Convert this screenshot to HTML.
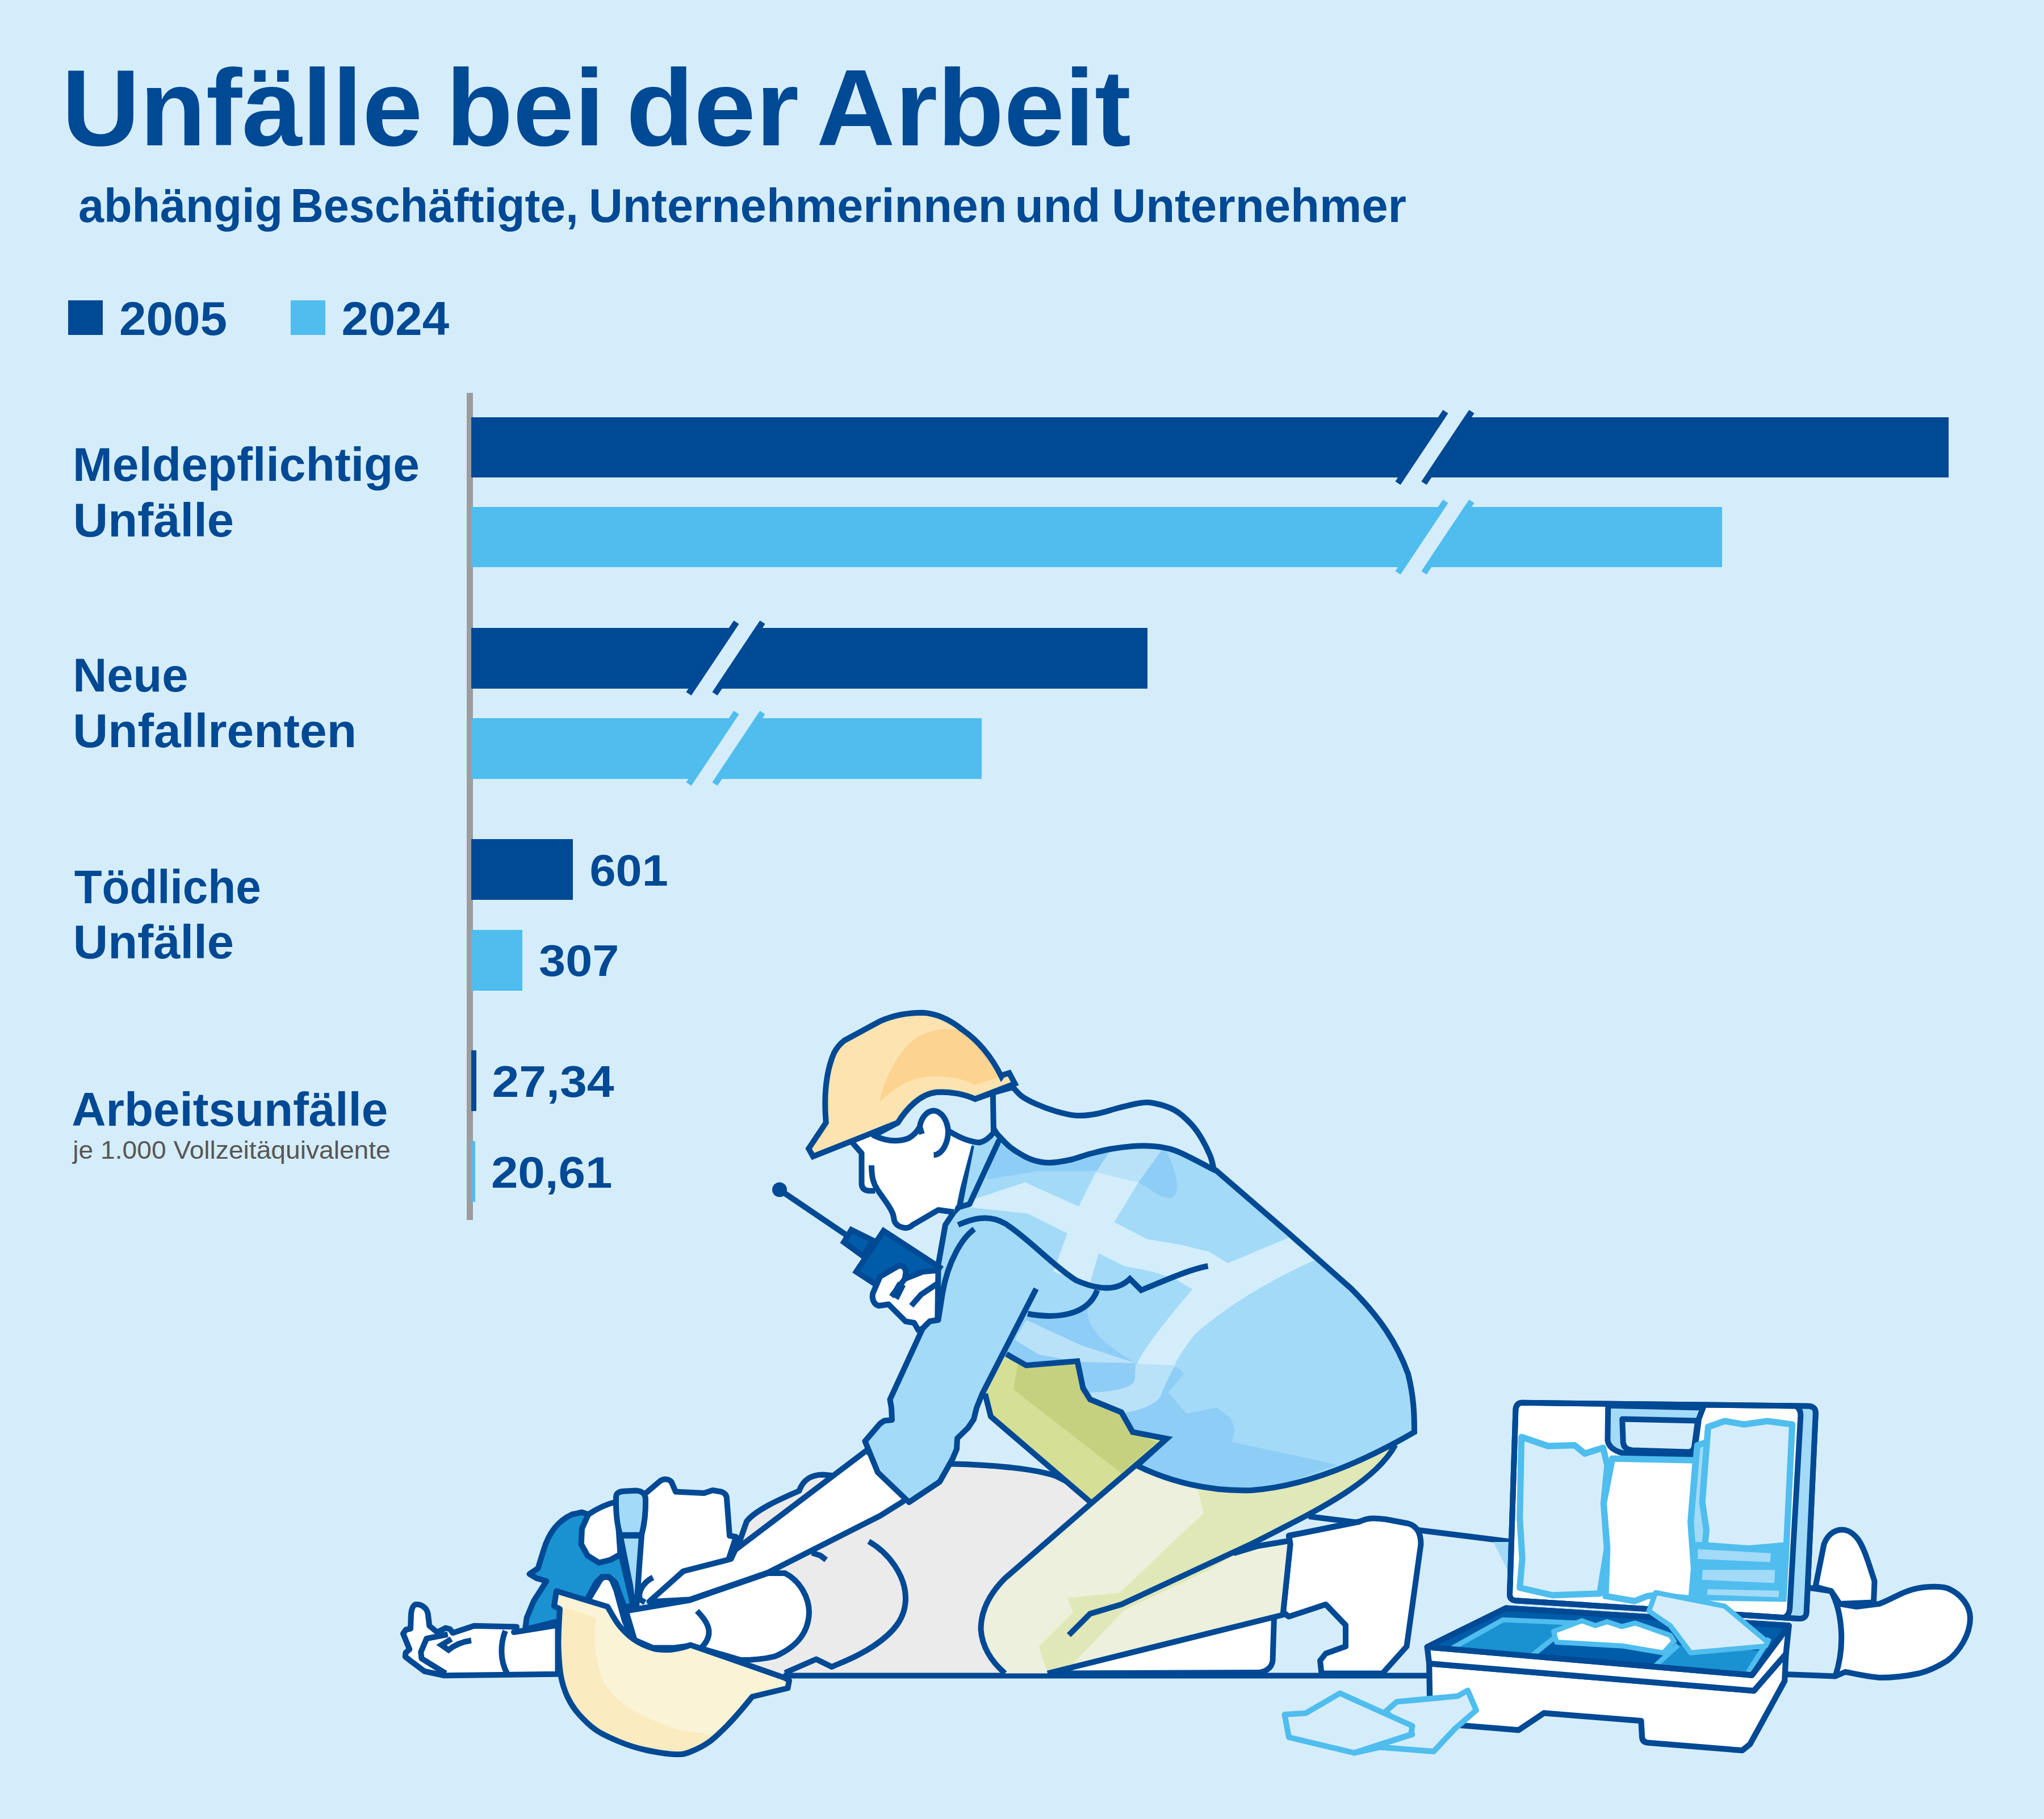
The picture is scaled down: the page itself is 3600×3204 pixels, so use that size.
<!DOCTYPE html>
<html lang="de"><head><meta charset="utf-8"><title>Unfälle bei der Arbeit</title>
<style>
html,body{margin:0;padding:0;background:#D5EDFB;}
svg{display:block}
text{font-family:"Liberation Sans",sans-serif;font-weight:bold;fill:#004994}
.o{stroke:#004994;stroke-width:9;stroke-linejoin:round;stroke-linecap:butt;fill:none}
</style></head><body>
<svg width="3600" height="3204" viewBox="0 0 3600 3204">
<rect width="3600" height="3204" fill="#D5EDFB"/>
<!-- legend -->
<rect x="120" y="529" width="61" height="61" fill="#004994"/>
<rect x="512" y="529" width="61" height="61" fill="#4FBDEE"/>
<!-- axis -->
<rect x="822" y="692" width="11" height="1457" fill="#9C9C9C"/>
<!-- bars -->
<rect x="830" y="735" width="2602" height="106" fill="#004994"/>
<rect x="830" y="893" width="2203" height="106" fill="#4FBDEE"/>
<rect x="830" y="1106" width="1191" height="107" fill="#004994"/>
<rect x="830" y="1265" width="899" height="107" fill="#4FBDEE"/>
<rect x="830" y="1478" width="179" height="107" fill="#004994"/>
<rect x="830" y="1638" width="90" height="107" fill="#4FBDEE"/>
<rect x="830" y="1850" width="9" height="107" fill="#004994"/>
<rect x="830" y="2010" width="7" height="107" fill="#4FBDEE"/>
<!-- break marks -->
<g><polygon points="2546,725 2592,725 2508,851 2462,851" fill="#D5EDFB"/>
<path d="M2546,725 L2462,851 M2592,725 L2508,851" stroke="#004994" stroke-width="11" fill="none"/></g>
<g transform="translate(0,158)"><polygon points="2546,725 2592,725 2508,851 2462,851" fill="#D5EDFB"/>
<path d="M2546,725 L2462,851 M2592,725 L2508,851" stroke="#4FBDEE" stroke-width="11" fill="none"/></g>
<g transform="translate(-1249,371)"><polygon points="2546,725 2592,725 2508,851 2462,851" fill="#D5EDFB"/>
<path d="M2546,725 L2462,851 M2592,725 L2508,851" stroke="#004994" stroke-width="11" fill="none"/></g>
<g transform="translate(-1249,530)"><polygon points="2546,725 2592,725 2508,851 2462,851" fill="#D5EDFB"/>
<path d="M2546,725 L2462,851 M2592,725 L2508,851" stroke="#4FBDEE" stroke-width="11" fill="none"/></g>
<!-- texts -->
<text x="108.7" y="255.5" font-size="192" textLength="635.5" lengthAdjust="spacingAndGlyphs">Unfälle</text>
<text x="785.3" y="255.5" font-size="192" textLength="279.6" lengthAdjust="spacingAndGlyphs">bei</text>
<text x="1102.7" y="255.5" font-size="192" textLength="304.4" lengthAdjust="spacingAndGlyphs">der</text>
<text x="1437.9" y="255.5" font-size="192" textLength="554.1" lengthAdjust="spacingAndGlyphs">Arbeit</text>
<text x="138.0" y="390.5" font-size="83" textLength="360.1" lengthAdjust="spacingAndGlyphs">abhängig</text>
<text x="511.5" y="390.5" font-size="83" textLength="507.2" lengthAdjust="spacingAndGlyphs">Beschäftigte,</text>
<text x="1036.9" y="390.5" font-size="83" textLength="736.6" lengthAdjust="spacingAndGlyphs">Unternehmerinnen</text>
<text x="1787.6" y="390.5" font-size="83" textLength="150.8" lengthAdjust="spacingAndGlyphs">und</text>
<text x="1957.9" y="390.5" font-size="83" textLength="519.1" lengthAdjust="spacingAndGlyphs">Unternehmer</text>
<text x="209.9" y="590" font-size="84" textLength="190.1" lengthAdjust="spacingAndGlyphs">2005</text>
<text x="601.5" y="590" font-size="84" textLength="189.6" lengthAdjust="spacingAndGlyphs">2024</text>
<text x="127.9" y="846.5" font-size="83" textLength="611.1" lengthAdjust="spacingAndGlyphs">Meldepflichtige</text>
<text x="128.8" y="944.5" font-size="83" textLength="283.2" lengthAdjust="spacingAndGlyphs">Unfälle</text>
<text x="128.2" y="1218" font-size="83" textLength="203.3" lengthAdjust="spacingAndGlyphs">Neue</text>
<text x="128.3" y="1316" font-size="83" textLength="499.7" lengthAdjust="spacingAndGlyphs">Unfallrenten</text>
<text x="130.7" y="1590.5" font-size="83" textLength="329.0" lengthAdjust="spacingAndGlyphs">Tödliche</text>
<text x="128.8" y="1688" font-size="83" textLength="283.2" lengthAdjust="spacingAndGlyphs">Unfälle</text>
<text x="126.2" y="1982.5" font-size="83" textLength="557.0" lengthAdjust="spacingAndGlyphs">Arbeitsunfälle</text>
<text x="128.3" y="2041" font-size="45" textLength="559.5" lengthAdjust="spacingAndGlyphs" style="font-weight:normal;fill:#575756">je 1.000 Vollzeitäquivalente</text>
<text x="1038.5" y="1559.5" font-size="78" textLength="138.2" lengthAdjust="spacingAndGlyphs">601</text>
<text x="949.1" y="1718.5" font-size="78" textLength="141.2" lengthAdjust="spacingAndGlyphs">307</text>
<text x="866.5" y="1932" font-size="78" textLength="215.1" lengthAdjust="spacingAndGlyphs">27,34</text>
<text x="864.9" y="2092" font-size="78" textLength="213.6" lengthAdjust="spacingAndGlyphs">20,61</text>
<!-- ===== lying person (tile A: origin 650,2400, scale 1/2) ===== -->
<g transform="translate(650,2400) scale(0.5)" stroke-width="20" stroke="#004994" fill="none" stroke-linejoin="round">
<!-- gray body -->
<path d="M1295,660 L1330,560 C1360,520 1450,480 1515,452 C1530,410 1560,395 1600,395 L1640,399 L2050,355 L2250,365 L2420,400 L2470,430 L2540,490 L2240,760 C2170,830 2150,900 2160,960 C2175,1030 2200,1060 2240,1100 L1400,1100 L1100,900 Z" fill="#EBEBEB" stroke="none"/>
<path d="M1295,660 L1330,560 C1360,520 1450,480 1515,452 C1530,410 1560,395 1600,395 L1640,399"/>
<path d="M2050,357 C2200,360 2350,375 2420,400 L2470,425"/>
<path d="M1760,630 C1830,670 1890,750 1890,830 C1890,900 1850,950 1775,1000 C1720,1035 1680,1050 1630,1072 L1575,1045 L1465,1093"/>
<path d="M1560,670 L1590,680 L1610,695"/>
<!-- ground line -->
<path d="M1460,1103 L3760,1103"/>
</g>
<!-- boots + lying legs (tile B: origin 1600,2400, scale 1/2) -->
<g transform="translate(1600,2400) scale(0.5)" stroke-width="20" stroke="#004994" fill="none" stroke-linejoin="round">
<path d="M1410,542 L2130,632"/>
<path d="M2060,632 L2120,632 L2120,750 Z" fill="#A3DAF7" stroke="none"/>
<path d="M490,1095 L1288,896 L1283,1050 C1280,1080 1250,1092 1230,1092 Z" fill="#fff"/>
<path d="M1340,610 L1590,560 C1620,545 1650,548 1680,552 L1760,567 C1790,575 1805,600 1805,640 L1755,1000 L1670,1095 L1455,1095 L1450,1050 L1470,1025 L1540,1000 L1540,925 L1470,852 L1340,895 L1320,880 L1345,640 Z" fill="#fff"/>
</g>
<!-- lying person's feet (tile C: origin 2500,2400, scale 1/2) -->
<g transform="translate(2500,2400) scale(0.5)" stroke-width="20" stroke="#004994" fill="none" stroke-linejoin="round">
<path d="M1395,790 L1425,640 C1440,600 1470,585 1500,590 C1540,600 1560,640 1580,700 L1603,770 L1600,845 L1480,850 L1450,805 Z" fill="#fff"/>
<path d="M1450,805 L1480,850 L1540,860 L1620,850 C1660,835 1690,815 1720,805 C1760,790 1820,785 1860,795 C1910,815 1940,860 1940,900 C1940,960 1900,1020 1860,1050 C1820,1075 1780,1090 1760,1095 C1700,1108 1660,1110 1620,1110 C1570,1105 1530,1095 1500,1090 L1465,1105 C1500,1000 1490,880 1450,805 Z" fill="#fff"/>
<path d="M1370,793 L1450,805 M1465,1105 L1285,1098"/>
</g>
<!-- kit lid (tile N: origin 2640,2440, scale 1/3.4067) -->
<g transform="translate(2640,2440) scale(0.29354)" stroke-width="34" stroke="#004994" fill="none" stroke-linejoin="round">
<path d="M140,105 L1860,125 Q1902,128 1900,172 L1845,1365 Q1842,1402 1800,1400 L100,1292 Q62,1288 65,1250 L100,150 Q102,105 140,105 Z" fill="#fff"/>
<path d="M1790,125 L1860,125 Q1902,128 1900,172 L1845,1365 Q1842,1402 1800,1400 L1725,1393 Q1745,1378 1747,1340 L1810,185 Q1812,142 1790,125 Z" fill="#A3DAF7" stroke="none"/>
<path d="M1780,122 Q1812,142 1810,185 L1745,1340 Q1742,1378 1715,1392"/>
<path d="M140,105 L1860,125 Q1902,128 1900,172 L1845,1365 Q1842,1402 1800,1400 L100,1292 Q62,1288 65,1250 L100,150 Q102,105 140,105 Z"/>
<!-- handle recess -->
<path d="M655,122 L652,330 Q660,385 745,408 L1165,418 L1180,350 L1200,200 L1225,135 Z" fill="#A3DAF7"/>
<path d="M740,203 L1193,213 L1172,370 Q1165,400 1135,400 L800,390 Q748,385 745,340 Z" fill="#D5EDFB"/>
<!-- pouches -->
<g stroke="#4FBDEE" stroke-width="38">
<path d="M1150,960 L1745,950 L1725,1300 L1140,1290 Z" fill="#4FBDEE" stroke="none"/>
<path d="M1190,360 L1250,340 L1250,960 L1160,960 L1150,820 Z" fill="#A3DAF7"/>
<path d="M680,440 L1180,450 L1150,820 L1170,1100 L1155,1280 L940,1260 L890,1265 L815,1295 L640,1265 L650,980 L628,710 L665,520 Z" fill="#fff"/>
<path d="M135,310 L295,365 L455,360 L515,410 L625,375 L650,480 L628,710 L648,980 L605,1250 L320,1260 L125,1215 L140,1040 L125,800 Z" fill="#D5EDFB"/>
<path d="M1255,250 L1355,215 L1470,235 L1610,215 L1760,235 L1725,960 L1500,980 L1235,960 L1245,870 L1220,700 Z" fill="#D5EDFB"/>
<path d="M1185,975 L1640,1000 L1635,1070 L1185,1050 Z" fill="#A3DAF7" stroke-width="16"/>
<path d="M1215,1100 L1665,1100 L1660,1195 L1210,1175 Z" fill="#A3DAF7" stroke-width="16"/>
<path d="M1245,1215 L1690,1225 L1685,1280 L1240,1265 Z" fill="#A3DAF7" stroke-width="16"/>
</g>
</g>
<!-- kit base (tile P: origin 2500,2800, scale 1/2.92) -->
<g transform="translate(2500,2800) scale(0.34247)" stroke-width="30" stroke="#004994" fill="none" stroke-linejoin="round">
<path d="M50,380 L55,685 L510,722 L640,635 L1140,675 L1145,760 Q1148,785 1175,787 L1660,827 L1700,795 L1878,470 L1885,330 L1720,520 Z" fill="#fff"/>
<path d="M40,295 L445,95 L1900,185 L1885,330 L1720,520 L50,380 Z" fill="#fff"/>
<path d="M40,295 L445,95 L1900,185 L1710,440 Z" fill="#005CA9"/>
<g stroke="none">
<path d="M150,302 L420,160 L760,180 L590,340 Z" fill="#1A92D1"/>
<path d="M1215,392 L1330,285 L1760,315 L1690,432 Z" fill="#1A92D1"/>
</g>
<g stroke="#4FBDEE" stroke-width="26">
<path d="M170,300 L430,155 L820,172"/>
<path d="M580,338 L690,250"/>
<path d="M1215,390 L1330,285"/>
<path d="M1690,425 L1800,250"/>
<path d="M690,215 L835,160 L905,185 L965,165 L1040,190 L1110,172 L1290,235 L1310,265 L1255,325 L1050,290 L705,270 Z" fill="#fff"/>
<path d="M1215,15 L1570,85 L1790,270 L1780,290 L1395,325 L1290,185 L1180,110 Z" fill="#D5EDFB"/>
</g>
<path d="M40,295 L1710,440 L1900,185"/>
</g>
<!-- loose packets (tile B: origin 1600,2400, scale 1/2) -->
<g transform="translate(1600,2400) scale(0.5)" stroke-width="20" stroke="#4FBDEE" fill="#D5EDFB" stroke-linejoin="round">
<path d="M1680,1230 L1720,1195 L1935,1175 L1970,1155 L2000,1225 L1925,1290 L1850,1370 L1660,1355 L1570,1375 L1775,1310 Z"/>
<path d="M1325,1240 L1400,1235 L1520,1165 L1775,1280 L1770,1310 L1570,1375 L1340,1320 Z"/>
</g>
<!-- ===== kneeling person's body (tile J: origin 1680,1980, scale 1/2) ===== -->
<defs>
<clipPath id="jk"><path d="M60,60 L170,40 L500,40 L800,40 L920,160 L1180,385 L1400,580 C1500,680 1560,770 1600,880 C1620,960 1622,1020 1622,1085 C1450,1185 1250,1275 1050,1290 C900,1295 760,1260 645,1203 L750,1108 L630,1085 L590,1015 L480,970 L455,930 L435,835 L255,845 L185,810 L-70,665 L-55,495 L-30,355 L0,290 L20,290 Z"/></clipPath>
</defs>
<g transform="translate(1680,1980) scale(0.5)" stroke-width="20" stroke="#004994" fill="none" stroke-linejoin="round">
<!-- hip -->
<path d="M185,810 L255,852 L435,840 L455,930 L480,970 L590,1015 L630,1085 L750,1108 L485,1335 L130,1030 L110,950 Z" fill="#D5DF96" stroke="none"/>
<path d="M225,845 L435,845 L455,930 L480,970 L590,1015 L630,1085 L715,1120 L590,1230 L210,935 Z" fill="#C6D17F" stroke="none"/>
<path d="M110,950 L130,1030 L485,1335"/>
<!-- thigh + calf -->
<path d="M750,1108 L485,1335 L180,1600 C120,1660 95,1720 95,1780 C100,1850 140,1900 180,1935 L330,1935 L1162,1728 L1182,1468 L1072,1486 L985,1512 L1050,1478 C1250,1375 1480,1270 1555,1130 L1050,1290 L645,1203 Z" fill="#ECF0DC" stroke="none"/>
<path d="M640,1200 L860,1290 L880,1370 L585,1650 L400,1670 L420,1720 L300,1840 L330,1935 L420,1900 L600,1712 L900,1570 L1050,1478 C1250,1375 1480,1270 1555,1130 L1050,1290 Z" fill="#E0E8B8" stroke="none"/>
<path d="M750,1108 L485,1335 L180,1600 C120,1660 95,1720 95,1780 C100,1850 140,1900 180,1935"/>
<path d="M1555,1130 C1480,1270 1250,1375 1050,1478 L590,1692 L480,1725 L405,1800" stroke-linejoin="miter"/>
<path d="M330,1935 L1162,1728"/>
<path d="M1182,1468 L1072,1486 L985,1512"/>
<!-- jacket -->
<path d="M60,60 L170,40 L500,40 L800,40 L920,160 L1180,385 L1400,580 C1500,680 1560,770 1600,880 C1620,960 1622,1020 1622,1085 C1450,1185 1250,1275 1050,1290 C900,1295 760,1260 645,1203 L750,1108 L630,1085 L590,1015 L480,970 L455,930 L435,835 L255,845 L185,810 L-70,665 L-55,495 L-30,355 L0,290 L20,290 Z" fill="#A3DAF7" stroke="none"/>
<g clip-path="url(#jk)" stroke="none">
<path d="M150,60 L230,118 L330,138 L450,115 L570,88 L510,165 L300,165 L115,195 Z" fill="#8ECDF6"/>
<path d="M740,80 C780,150 800,230 775,255 C750,275 700,235 650,205 Z" fill="#8ECDF6"/>
<path d="M260,668 C350,685 450,680 490,610 L470,660 C475,720 520,770 640,842 L790,858 L810,880 L755,945 L820,1020 L925,998 L975,1035 L990,1075 L980,1120 L1350,1200 L1050,1310 L640,1215 L750,1108 L630,1085 L590,1015 L480,970 L455,930 L435,835 L255,845 L185,810 Z" fill="#8ECDF6"/>
<path d="M255,690 L450,780 L640,842 L440,838 L300,812 L215,760 Z" fill="#B9E2F9"/>
<path d="M560,80 L740,80 L650,205 L565,345 L440,290 L500,170 Z" fill="#B9E2F9"/>
<path d="M640,845 L780,850 C750,900 735,940 725,965 C690,1000 640,1010 595,1018 L480,968 L470,945 C560,945 620,930 637,905 Z" fill="#B9E2F9"/>
<path d="M500,170 L650,205 L565,345 L510,455 L480,560 L350,520 L400,385 L440,290 Z" fill="#D3EDFB"/>
<path d="M40,275 L250,205 L440,290 L565,345 L680,405 L800,425 L900,450 L965,490 L1180,400 L1270,480 C1100,555 950,650 850,740 C810,790 785,830 778,850 L645,845 C670,790 740,700 840,582 L780,545 L700,520 L600,500 L510,455 L400,385 L260,315 L40,292 Z" fill="#D3EDFB"/>
</g>
<!-- jacket outline -->
<path d="M920,160 L1180,385 L1400,580 C1500,680 1560,770 1600,880 C1620,960 1622,1020 1622,1085 C1450,1185 1250,1275 1050,1290 C900,1295 760,1260 645,1203 L750,1108 L630,1085 L590,1015 L480,970 L455,930 L435,835 L255,850 L185,810" stroke-linejoin="miter"/>
<!-- collar lines -->
<path d="M62,75 L20,290 L0,310 L-30,355 L-55,495 L-70,665"/>
<path d="M160,55 L55,282 L20,292"/>
<!-- shoulder crease -->
<path d="M15,355 C60,335 120,315 180,350 C260,400 350,500 430,550 C520,590 580,585 620,545 L660,585 C780,535 840,510 895,500" stroke-linejoin="miter"/>
<path d="M260,668 C350,685 470,680 505,585"/>
</g>
<!-- hair wave (tile D: origin 1300,1780, scale 1/2) -->
<g transform="translate(1300,1780) scale(0.5)" stroke-width="20" stroke="#004994" fill="none" stroke-linejoin="round">
<path d="M897,290 C896,300 890,329 890,350 C890,371 894,397 900,414 C906,431 917,440 929,453 C941,466 955,480 973,492 C991,504 1016,519 1037,526 C1058,533 1074,536 1096,536 C1118,536 1145,531 1169,526 C1193,521 1218,510 1242,504 C1266,498 1292,491 1316,487 C1340,483 1364,480 1389,478 C1414,476 1438,476 1463,478 C1488,480 1512,484 1536,492 C1560,500 1585,514 1609,526 C1633,538 1666,556 1678,562 L1675,556 C1673,549 1670,529 1663,512 C1656,495 1645,472 1634,453 C1623,434 1611,416 1595,399 C1579,382 1558,362 1536,350 C1514,338 1483,330 1463,326 C1443,322 1434,323 1414,326 C1394,329 1364,337 1340,343 C1316,349 1291,358 1267,363 C1243,368 1218,371 1194,370 C1170,369 1144,362 1120,355 C1096,348 1067,337 1047,328 C1027,319 1011,311 998,301 C985,291 973,275 968,270 Z" fill="#D5EDFB"/>
</g>
<!-- ===== kneeling person's head (tile H: origin 1400,1760, scale 1/4) ===== -->
<g transform="translate(1400,1760) scale(0.25)" stroke-width="40" stroke="#004994" fill="none" stroke-linejoin="round">
<!-- face -->
<path d="M400,1000 L470,1085 L470,1300 Q472,1345 520,1350 L565,1350 L650,1450 L690,1510 L700,1560 Q715,1605 780,1612 Q810,1610 830,1590 L1010,1485 L1120,1500 L1245,1030 L1245,900 L700,850 Z" fill="#fff" stroke="none"/>
<path d="M400,1005 L470,1085 L470,1300 Q472,1345 520,1350 L565,1350" />
<path d="M540,1170 C540,1260 555,1300 580,1340 L650,1440 C690,1500 695,1520 700,1560 Q715,1605 780,1612 Q810,1610 830,1590 L1010,1485 L1120,1500"/>
<!-- hair cap -->
<path d="M725,870 L555,960 C640,1000 720,1010 800,980 C840,960 860,930 880,900 L1095,935 C1160,975 1230,1005 1300,1010 C1350,1000 1380,965 1400,940 L1395,660 L1270,703 C1200,672 1100,648 1000,655 C880,665 780,780 725,870 Z" fill="#D5EDFB"/>
<!-- ear -->
<path d="M895,950 L880,900 C885,850 920,790 975,785 C1040,790 1075,860 1080,930 C1080,1010 1040,1095 978,1098 L900,1000 Z" fill="#fff" stroke="none"/>
<path d="M895,950 L880,900 C885,850 920,790 975,785 C1040,790 1075,860 1080,930 C1080,1010 1040,1095 978,1098"/>
<!-- helmet -->
<path id="helm" d="M128,1108 L97,1053 L219,870 C205,700 215,520 275,380 C300,330 330,305 350,290 L600,155 C700,110 800,95 900,95 C1000,100 1100,150 1180,215 C1310,305 1395,425 1455,545 L1462,535 L1510,520 L1550,595 L1270,703 C1200,672 1100,648 1000,655 C880,665 780,780 725,870 Z" fill="#FDE3B0" stroke="none"/>
<path d="M597,727 C620,600 700,400 830,290 C930,210 1080,195 1180,225 L1260,280 L1340,370 L1400,460 L1450,545 L1270,603 C1150,545 1000,530 880,555 C770,580 670,650 597,727 Z" fill="#FDD390" stroke="none"/>
<path d="M128,1108 L97,1053 L219,870 C205,700 215,520 275,380 C300,330 330,305 350,290 L600,155 C700,110 800,95 900,95 C1000,100 1100,150 1180,215 C1310,305 1395,425 1455,545 L1462,535 L1510,520 L1550,595 L1270,703 C1200,672 1100,648 1000,655 C880,665 780,780 725,870 Z" stroke-linejoin="miter"/>
</g>
<!-- ===== lying person's head, arms, helmet + kneeling forearm (tile A) ===== -->
<g transform="translate(650,2400) scale(0.5)" stroke-width="20" stroke="#004994" fill="none" stroke-linejoin="round">
<!-- hair (tile K coords inside) -->
<g transform="translate(500,360) scale(0.5)" stroke-width="40">
<path d="M130,770 L190,730 L230,600 C260,500 320,400 430,350 L500,335 L545,350 L500,450 L495,560 L540,640 L620,690 L700,670 L775,630 L860,990 L800,1005 L735,830 L690,790 L640,790 L600,830 L530,960 L320,895 L305,990 L345,1010 L340,1100 L100,1160 L110,1080 L160,960 L250,820 L180,800 Z" fill="#1A92D1"/>
<!-- face -->
<path d="M950,190 L1050,115 L1090,100 L1130,120 L1160,190 L1360,200 L1420,180 L1480,190 C1510,200 1520,220 1520,240 L1540,500 L1585,508 L1535,665 L1215,750 L975,965 L890,990 L920,500 L950,300 Z" fill="#fff" stroke="none"/>
<path d="M950,200 L1050,115 C1080,95 1110,100 1130,120 L1160,190 L1360,200 L1420,180 L1480,190 C1510,200 1520,220 1520,240 L1540,500 L1585,508 L1535,660"/>
<!-- ear muff -->
<path d="M545,350 C620,300 680,275 745,260 L770,630 L700,670 L620,690 L540,640 L495,560 L500,450 Z" fill="#fff"/>
<!-- headband -->
<path d="M740,230 C740,200 760,190 790,187 L880,182 C920,185 945,200 948,240 C950,330 940,420 920,495 L770,495 C745,420 738,330 740,230 Z" fill="#A3DAF7"/>
<path d="M770,500 L920,500 L905,700 L895,850 L885,990 L860,990 L840,850 L800,650 Z" fill="#A3DAF7"/>
<!-- strap -->
<path d="M540,960 L630,810 C650,785 690,785 710,810 L740,880 L800,1100 L860,1235 L700,1050 Z" fill="#fff" stroke="none"/>
<path d="M540,960 L630,810 C650,785 690,785 710,810 L740,880 L800,1100 L860,1235"/>
</g>
<!-- lying person's left arm + hand (tile L coords inside) -->
<g transform="translate(80,700) scale(0.5)" stroke-width="40">
<path d="M1170,450 L860,500 L880,462 L580,455 L430,505 L410,478 L380,470 L320,500 L265,455 L255,370 C245,320 200,300 165,305 C140,320 135,360 135,400 L132,475 L100,482 L80,510 L125,620 L98,645 L95,672 L130,700 L230,775 L370,805 L1170,795 Z" fill="#fff"/>
<path d="M395,515 L245,545 L205,640 L210,685 L380,790"/>
<path d="M800,490 C765,580 760,700 815,795"/>
<path d="M560,558 C480,570 430,600 400,625 L350,590 L420,548" stroke-linejoin="miter"/>
</g>
<!-- kneeling person's forearm + hand -->
<path d="M1800,350 L1752,310 L1290,660 L1275,692 L1107,735 L987,842 L1000,842 L1130,835 L1405,740 L1800,540 L1880,490 L1900,470" fill="#fff"/>
<path d="M1000,757 C965,775 945,810 955,835 L972,845" fill="#fff"/>
</g>
<!-- walkie-talkie + hand (tile W: origin 1330,2040, scale 1/4) -->
<g transform="translate(1330,2040) scale(0.25)" stroke-width="40" stroke="#004994" fill="none" stroke-linejoin="round">
<path d="M205,245 L640,540"/>
<circle cx="172" cy="222" r="52" fill="#004994" stroke="none"/>
<path d="M678,505 L830,580 L760,690 L625,592 Z" fill="#005CA9" stroke-linejoin="miter"/>
<path d="M905,512 L1300,770 L1107,1058 L712,800 Z" fill="#005CA9" stroke-linejoin="miter"/>
<path d="M880,835 L1000,765 C1030,745 1060,770 1062,800 L1055,850 L1180,800 L1290,790 L1285,1140 L1230,1150 L1180,1200 L1150,1212 L1120,1160 L1060,1150 L1020,1110 L940,1030 L870,1040 C835,1030 820,990 830,950 Z" fill="#fff"/>
<path d="M1005,870 L1060,900 L1010,1000 L950,965 Z" fill="#004994" stroke="none"/>
<path d="M1055,850 L960,975"/>
<path d="M1290,880 L1170,960 L1100,1040" stroke-linejoin="miter"/>
</g>
<!-- arm (tile D: origin 1300,1780, scale 1/2) -->
<g transform="translate(1300,1780) scale(0.5)" stroke-width="20" stroke="#004994" fill="none" stroke-linejoin="round">
<path d="M832,770 C790,800 740,880 720,995 L705,1090 L675,1095 L650,1120 L535,1370 L540,1400 L542,1442 L515,1445 L500,1455 L447,1517 L492,1627 L602,1732 L710,1660 L755,1580 L770,1545 L772,1507 L810,1470 L830,1440 L840,1400 L860,1350 L1050,980 L940,760 Z" fill="#A3DAF7" stroke="none"/>
<path d="M832,770 C790,800 740,880 720,995 L705,1090 L675,1095 L650,1120 L535,1370 L540,1400 L542,1442 L515,1445 L500,1455 L447,1517 L492,1627 L602,1732 L710,1660 L755,1580 L770,1545 L772,1507 L810,1470 L830,1440 L840,1400 L860,1350 L1050,980"/>
</g>
<g transform="translate(1600,2400) scale(0.5)" stroke-width="20" stroke="#004994" fill="none" stroke-linejoin="round"><path d="M1590,560 L1340,610 L1345,640 L1320,880 L1340,895"/></g>
<g transform="translate(650,2400) scale(0.5)" stroke-width="20" stroke="#004994" fill="none" stroke-linejoin="round">
<!-- lying person's right arm -->
<path d="M905,875 L1130,837 L1405,742 L1465,742 C1520,770 1550,830 1550,880 C1548,950 1510,1000 1430,1035 C1390,1045 1350,1048 1310,1048 L1135,997 L1075,1005 L1000,1005 L935,977 Z" fill="#fff"/>
<path d="M1155,875 C1200,920 1215,960 1170,1005"/>
<!-- helmet -->
<clipPath id="lh"><path d="M660,805 L840,860 C847,871 865,906 880,925 C895,944 912,961 932,975 C952,989 980,1001 1000,1007 C1020,1013 1033,1012 1050,1012 C1067,1012 1086,1008 1100,1005 C1114,1002 1127,997 1132,995 L1462,1110 L1480,1120 L1475,1147 L1350,1177 C1343,1185 1324,1209 1310,1225 C1296,1241 1283,1257 1265,1275 C1247,1293 1222,1319 1200,1335 C1178,1351 1151,1364 1130,1372 C1109,1380 1101,1381 1075,1380 C1049,1379 1008,1372 975,1365 C942,1358 909,1347 880,1335 C851,1323 823,1311 800,1295 C777,1279 757,1259 740,1240 C723,1221 711,1203 700,1180 C689,1157 680,1130 675,1100 C670,1070 668,1033 667,1000 C666,967 669,922 670,900 C671,878 672,873 672,868 L652,858 Z"/></clipPath>
<path d="M660,805 L840,860 C847,871 865,906 880,925 C895,944 912,961 932,975 C952,989 980,1001 1000,1007 C1020,1013 1033,1012 1050,1012 C1067,1012 1086,1008 1100,1005 C1114,1002 1127,997 1132,995 L1462,1110 L1480,1120 L1475,1147 L1350,1177 C1343,1185 1324,1209 1310,1225 C1296,1241 1283,1257 1265,1275 C1247,1293 1222,1319 1200,1335 C1178,1351 1151,1364 1130,1372 C1109,1380 1101,1381 1075,1380 C1049,1379 1008,1372 975,1365 C942,1358 909,1347 880,1335 C851,1323 823,1311 800,1295 C777,1279 757,1259 740,1240 C723,1221 711,1203 700,1180 C689,1157 680,1130 675,1100 C670,1070 668,1033 667,1000 C666,967 669,922 670,900 C671,878 672,873 672,868 L652,858 Z" fill="#FBF3D6" stroke="none"/>
<path clip-path="url(#lh)" d="M600,860 L700,867 L800,900 C790,960 790,1050 830,1130 C870,1200 960,1255 1100,1295 L1215,1312 L1250,1330 L1130,1450 L600,1400 Z" fill="#FAEBC0" stroke="none"/>
<path d="M660,805 L840,860 C847,871 865,906 880,925 C895,944 912,961 932,975 C952,989 980,1001 1000,1007 C1020,1013 1033,1012 1050,1012 C1067,1012 1086,1008 1100,1005 C1114,1002 1127,997 1132,995 L1462,1110 L1480,1120 L1475,1147 L1350,1177 C1343,1185 1324,1209 1310,1225 C1296,1241 1283,1257 1265,1275 C1247,1293 1222,1319 1200,1335 C1178,1351 1151,1364 1130,1372 C1109,1380 1101,1381 1075,1380 C1049,1379 1008,1372 975,1365 C942,1358 909,1347 880,1335 C851,1323 823,1311 800,1295 C777,1279 757,1259 740,1240 C723,1221 711,1203 700,1180 C689,1157 680,1130 675,1100 C670,1070 668,1033 667,1000 C666,967 669,922 670,900 C671,878 672,873 672,868 L652,858 Z"/>
</g>
</svg>
</body></html>
